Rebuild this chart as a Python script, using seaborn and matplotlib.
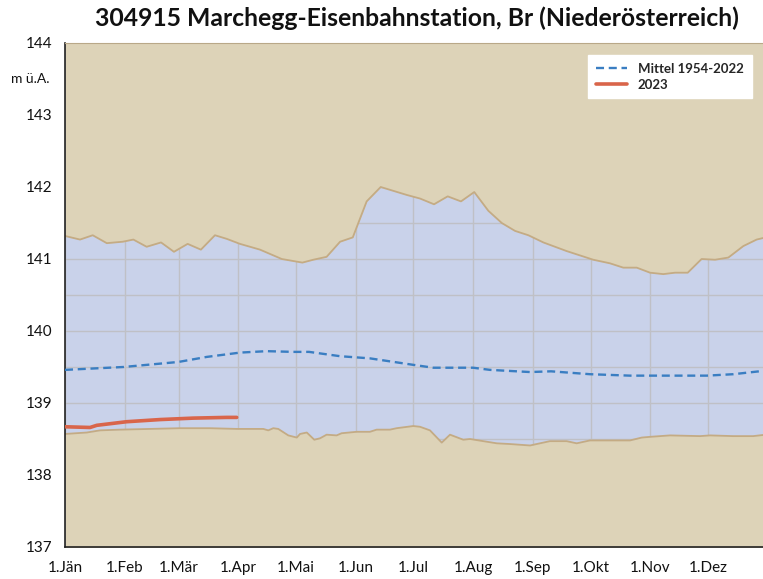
import numpy as np
import pandas as pd
import matplotlib
matplotlib.use("Agg")
import matplotlib.pyplot as plt
import seaborn as sns

# Day of year (0 = 1 January) and water level in m ü.A.
upper_days = [0, 7.8, 14.4, 21.7, 30, 35.5, 42.4, 49.9, 56.6, 63.7, 70.6, 77.9, 84, 90.9,
              96.1, 101.3, 112.6, 123.3, 129, 135.9, 142.9, 149.5, 156.7, 164, 177.5,
              184.4, 191.7, 198.8, 205.7, 212.6, 219.9, 226.9, 233.8, 240.7, 248.5,
              260.6, 274.4, 283.1, 290, 297, 303.9, 310.8, 316.9, 323.5, 330.7, 337.7,
              344.6, 352.4, 359.3, 364]
upper_vals = [141.32, 141.27, 141.33, 141.22, 141.24, 141.27, 141.17, 141.23, 141.10, 141.21,
              141.13, 141.33, 141.28, 141.21, 141.17, 141.13, 141.00, 140.95, 140.99, 141.03,
              141.24, 141.30, 141.80, 142.00, 141.89, 141.84, 141.76, 141.87, 141.80, 141.93,
              141.67, 141.50, 141.39, 141.33, 141.23, 141.11, 140.99, 140.94, 140.88, 140.88,
              140.81, 140.79, 140.81, 140.81, 141.00, 140.99, 141.02, 141.18, 141.27, 141.30]

lower_days = [0, 11.3, 18.2, 28.6, 44.2, 59.7, 75.3, 89.2, 96.1, 103, 105.6, 108.2, 110.8,
              116, 120.4, 122.1, 125.6, 129.5, 132.5, 135.9, 141.1, 143.7, 151.5, 158.4,
              161.9, 168.8, 172.3, 180.9, 184.4, 189.6, 195.7, 200, 206.9, 210.4, 217.3,
              224.3, 231.2, 241.6, 245, 251.9, 260.6, 265.8, 272.7, 293.5, 299.6, 303.9,
              314.3, 329.9, 335.1, 347.2, 357.5, 364]
lower_vals = [138.57, 138.59, 138.62, 138.63, 138.64, 138.65, 138.65, 138.64, 138.64, 138.64,
              138.62, 138.65, 138.64, 138.55, 138.52, 138.57, 138.59, 138.49, 138.51, 138.56,
              138.55, 138.58, 138.60, 138.60, 138.63, 138.63, 138.65, 138.68, 138.67, 138.62,
              138.45, 138.56, 138.49, 138.50, 138.47, 138.44, 138.43, 138.41, 138.43, 138.47,
              138.47, 138.44, 138.48, 138.48, 138.52, 138.53, 138.55, 138.54, 138.55, 138.54,
              138.54, 138.56]

mean_days = [0, 30.3, 58.9, 73.6, 90.9, 104.8, 118.6, 126.8, 142.9, 158.4, 180.9, 191.3,
             212, 220.8, 241.6, 252.5, 272.7, 293.5, 333.4, 347.2, 364]
mean_vals = [139.46, 139.50, 139.57, 139.64, 139.70, 139.72, 139.71, 139.71, 139.65, 139.62,
             139.53, 139.49, 139.49, 139.46, 139.43, 139.44, 139.40, 139.38, 139.38, 139.40,
             139.45]

y2023_days = [0, 13, 16.5, 32, 49.4, 66.6, 84, 89.2]
y2023_vals = [138.67, 138.66, 138.69, 138.74, 138.77, 138.79, 138.80, 138.80]

month_starts = [0, 31, 59, 90, 120, 151, 181, 212, 243, 273, 304, 334]
month_labels = ["1.Jän", "1.Feb", "1.Mär", "1.Apr", "1.Mai", "1.Jun", "1.Jul", "1.Aug",
                "1.Sep", "1.Okt", "1.Nov", "1.Dez"]

TAN = "#ddd3b8"
BLUE_FILL = "#c9d2ea"
EDGE = "#c4ab84"

sns.set_theme(style="white")
plt.rcParams["font.family"] = ["Lato", "DejaVu Sans"]

fig = plt.figure(figsize=(7.63, 5.79), dpi=100)
ax = fig.add_axes([65 / 763, 32 / 579, 698 / 763, 504 / 579])
ax.set_facecolor(BLUE_FILL)

ax.set_xlim(0, 362.6)
ax.set_ylim(137, 144)

# grid under everything
ax.set_axisbelow(True)
ax.set_xticks(month_starts)
ax.set_xticklabels(month_labels)
ax.set_yticks([137, 138, 139, 140, 141, 142, 143, 144])
ax.set_yticks(np.arange(137.5, 144, 1.0), minor=True)
ax.grid(True, which="both", axis="y", color="#bfc0c6", linewidth=1.0, zorder=0)
ax.grid(True, which="major", axis="x", color="#bfc0c6", linewidth=1.0, zorder=0)

# region outside the min/max envelope
ax.fill_between(upper_days, upper_vals, 144.5, color=TAN, zorder=1, linewidth=0)
ax.fill_between(lower_days, 136.5, lower_vals, color=TAN, zorder=1, linewidth=0)

env = pd.concat([
    pd.DataFrame({"day": upper_days, "value": upper_vals, "kind": "max"}),
    pd.DataFrame({"day": lower_days, "value": lower_vals, "kind": "min"}),
])
sns.lineplot(data=env, x="day", y="value", units="kind", estimator=None, color=EDGE,
             linewidth=1.3, ax=ax, zorder=2, legend=False)

mean_df = pd.DataFrame({"day": mean_days, "value": mean_vals})
sns.lineplot(data=mean_df, x="day", y="value", color="#3a7ec2", linewidth=1.7,
             linestyle=(0, (3.4, 2.0)), ax=ax, zorder=3, label="Mittel 1954-2022")

cur_df = pd.DataFrame({"day": y2023_days, "value": y2023_vals})
sns.lineplot(data=cur_df, x="day", y="value", color="#d9654a", linewidth=2.6,
             ax=ax, zorder=4, label="2023")

ax.set_xlabel("")
ax.set_ylabel("")

ax.spines["right"].set_visible(False)
ax.spines["top"].set_color("#b9a888")
ax.spines["top"].set_linewidth(0.8)
ax.spines["left"].set_color("#222222")
ax.spines["bottom"].set_color("#222222")
ax.spines["left"].set_linewidth(1.2)
ax.spines["bottom"].set_linewidth(1.2)

ax.tick_params(axis="both", which="both", direction="out", color="#222222",
               labelsize=11, labelcolor="#111111")
ax.tick_params(axis="x", which="major", length=6, width=1.2, pad=4)
ax.tick_params(axis="y", which="major", length=6, width=1.2, pad=3)
ax.tick_params(axis="y", which="minor", length=5, width=1.2, labelleft=False)
ax.tick_params(axis="x", which="minor", bottom=False)

ax.text(-0.077, 143.5, "m ü.A.", transform=ax.get_yaxis_transform(), ha="left",
        va="center", fontsize=10, color="#111111")

leg = ax.legend(loc="upper right", bbox_to_anchor=(0.993, 0.99), frameon=True,
                fancybox=False, framealpha=1.0, edgecolor="white", facecolor="white",
                prop={"weight": "bold", "size": 9.5}, handlelength=2.4,
                borderpad=0.6, labelspacing=0.3)

fig.text(0.547, 0.968, "304915 Marchegg-Eisenbahnstation, Br (Niederösterreich)",
         ha="center", va="center", fontsize=17.8, fontweight="bold", color="#111111")

fig.savefig("out.png", dpi=100)
